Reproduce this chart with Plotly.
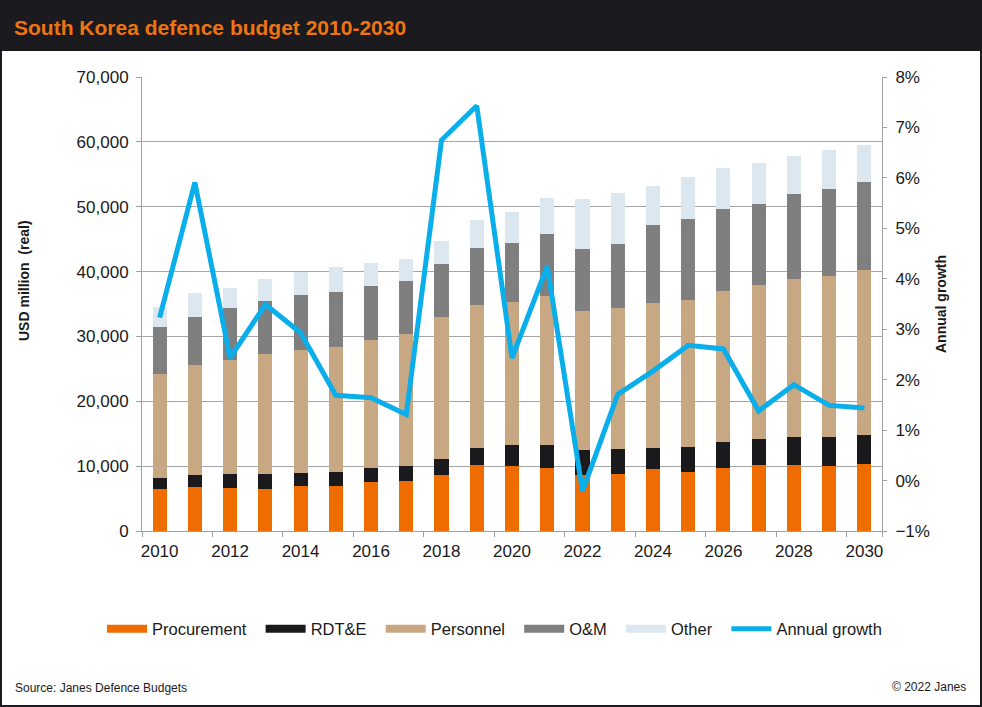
import plotly.graph_objects as go

years = list(range(2010, 2031))

procurement = [6480, 6790, 6640, 6480, 6940, 6940, 7560, 7720, 8640, 10190, 10030,
               9770, 8640, 8800, 9570, 9100, 9770, 10190, 10190, 10030, 10340]
rdte = [1750, 1850, 2160, 2320, 2010, 2160, 2160, 2320, 2470, 2620, 3240,
        3500, 3860, 3860, 3240, 3860, 3960, 4010, 4320, 4480, 4480]
personnel = [16050, 17030, 17590, 18420, 19030, 19290, 19750, 20370, 21810, 22070, 22070,
             22990, 21450, 21760, 22380, 22690, 23300, 23770, 24380, 24850, 25460]
om = [7200, 7360, 7920, 8280, 8440, 8490, 8330, 8180, 8280, 8800, 9100,
      9570, 9570, 9880, 12040, 12500, 12650, 12500, 13120, 13430, 13580]
other = [3090, 3700, 3140, 3400, 3550, 3860, 3550, 3390, 3550, 4320, 4780,
         5560, 7720, 7870, 6020, 6480, 6330, 6330, 5860, 6020, 5710]
growth = [3.23, 5.91, 2.43, 3.49, 2.93, 1.69, 1.64, 1.31, 6.75, 7.43, 2.43,
          4.25, -0.21, 1.71, 2.17, 2.68, 2.61, 1.38, 1.90, 1.49, 1.44]

tick_years = list(range(2010, 2031, 2))

series = [
    ("Procurement", procurement, "#ee6c00"),
    ("RDT&E", rdte, "#1a1a1d"),
    ("Personnel", personnel, "#c8a882"),
    ("O&M", om, "#7f7f7f"),
    ("Other", other, "#dde7f0"),
]
line_col = "#0aaeea"

fig = go.Figure()
for name, vals, col in series:
    fig.add_trace(go.Bar(x=years, y=vals, name=name, marker_color=col,
                         marker_line_width=0, width=0.4, showlegend=False))

fig.add_trace(go.Scatter(x=years, y=[g / 100 for g in growth], yaxis="y2",
                         mode="lines", line=dict(color=line_col, width=5),
                         showlegend=False, name="Annual growth"))

# legend entries drawn as thick lines so the swatches look like Excel's
pad = "\u00a0\u00a0"
for name, vals, col in series:
    fig.add_trace(go.Scatter(x=[None], y=[None], mode="lines", name=name + pad,
                             line=dict(color=col, width=8)))
fig.add_trace(go.Scatter(x=[None], y=[None], mode="lines", name="Annual growth",
                         line=dict(color=line_col, width=5)))

W, H = 982, 707
L, R, T, B = 142, 100, 77, 176
pw, ph = W - L - R, H - T - B
def px(x): return (x - L) / pw
def py(y): return (H - B - y) / ph

fig.update_layout(
    width=W, height=H,
    margin=dict(l=L, r=R, t=T, b=B),
    barmode="stack",
    paper_bgcolor="white", plot_bgcolor="white",
    font=dict(family="Liberation Sans, Arial", size=17, color="#1a1a1a"),
    xaxis=dict(range=[2009.5, 2030.5], tickvals=tick_years, ticks="",
               ticklabelstandoff=5,
               showline=True, linecolor="#a0a0a0", linewidth=1,
               showgrid=False, zeroline=False,
               minor=dict(tickvals=[y - 0.5 for y in tick_years] + [2030.5],
                          ticks="outside", ticklen=5, tickcolor="#a0a0a0")),
    yaxis=dict(range=[0, 70000], dtick=10000, tickformat=",",
               ticks="outside", ticklen=5, tickcolor="#a0a0a0",
               ticklabelstandoff=4,
               showline=True, linecolor="#a0a0a0",
               gridcolor="#a6a6a6", zeroline=False),
    yaxis2=dict(overlaying="y", side="right", range=[-0.01, 0.08], dtick=0.01,
                tickformat=".0%", ticks="outside", ticklen=4, tickcolor="#a0a0a0",
                ticklabelstandoff=5,
                showline=True, linecolor="#a0a0a0", showgrid=False, zeroline=False),
    legend=dict(orientation="h", x=px(102), xanchor="left", y=py(629), yanchor="middle",
                font=dict(size=16.5), itemwidth=40, traceorder="normal"),
    shapes=[
        dict(type="rect", xref="paper", yref="paper", x0=px(0), x1=px(W),
             y0=py(51), y1=py(0), fillcolor="#1b1a1f", line_width=0, layer="below"),
        dict(type="rect", xref="paper", yref="paper", x0=px(1), x1=px(W - 1),
             y0=py(H - 1), y1=py(1), line=dict(color="#1b1a1f", width=2)),
    ],
    annotations=[
        dict(text="<b>South Korea defence budget 2010-2030</b>", xref="paper", yref="paper",
             x=px(12), y=py(27), xanchor="left", yanchor="middle", showarrow=False,
             font=dict(size=21, color="#ee7410")),
        dict(text="<b>USD million  (real)</b>", xref="paper", yref="paper",
             x=px(24), y=py(281), xanchor="center", yanchor="middle", showarrow=False,
             textangle=-90, font=dict(size=14)),
        dict(text="<b>Annual growth</b>", xref="paper", yref="paper",
             x=px(941), y=py(304), xanchor="center", yanchor="middle", showarrow=False,
             textangle=-90, font=dict(size=14)),
        dict(text="Source: Janes Defence Budgets", xref="paper", yref="paper",
             x=px(13), y=py(688), xanchor="left", yanchor="middle", showarrow=False,
             font=dict(size=12)),
        dict(text="© 2022 Janes", xref="paper", yref="paper",
             x=px(968), y=py(687), xanchor="right", yanchor="middle", showarrow=False,
             font=dict(size=12)),
    ],
)

fig.write_html("out.html", config={"displayModeBar": False},
               post_script="document.body.style.margin='0';document.body.style.padding='0';")
